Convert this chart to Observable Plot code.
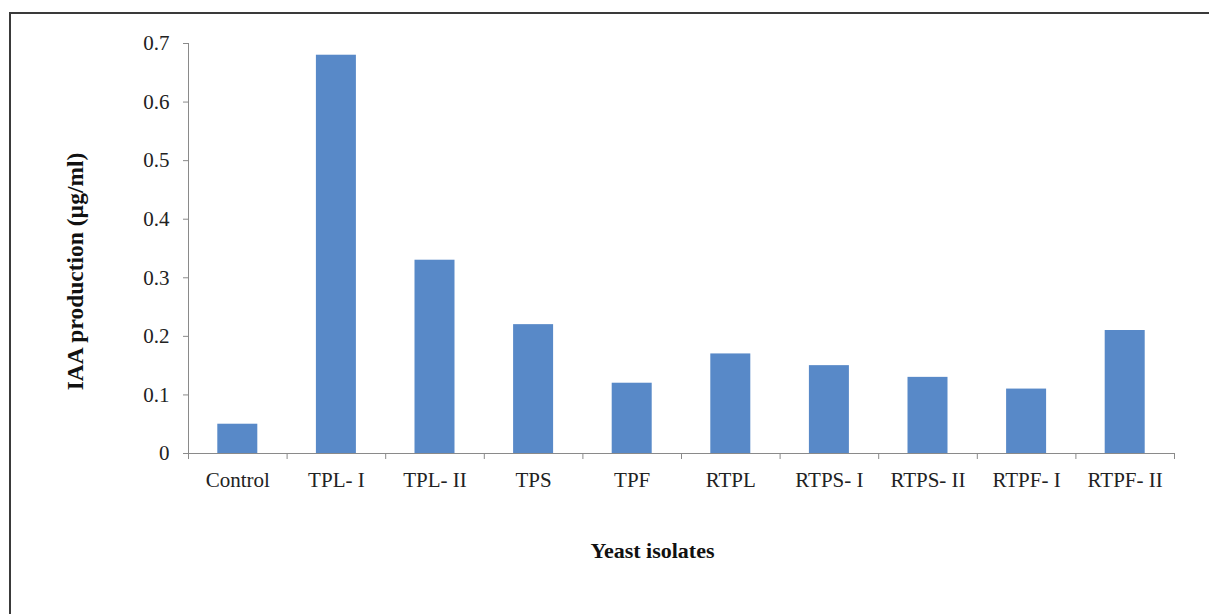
<!DOCTYPE html>
<html>
<head>
<meta charset="utf-8">
<script src="https://cdn.jsdelivr.net/npm/d3@7"></script>
<script src="https://cdn.jsdelivr.net/npm/@observablehq/plot@0.6"></script>
<style>
  html, body { margin: 0; padding: 0; background: #fff; overflow: hidden; width: 1209px; height: 614px; }
  #wrap { position: relative; width: 1209px; height: 614px; }
  #frame { position: absolute; left: 9px; top: 12px; width: 1400px; height: 800px; border: 2px solid #3a3a3a; box-sizing: border-box; }
  #chart { position: absolute; left: 0; top: 0; }
</style>
</head>
<body>
<div id="wrap"><div id="frame"></div><div id="chart"></div></div>
<script>
const categories = ["Control", "TPL- I", "TPL- II", "TPS", "TPF", "RTPL", "RTPS- I", "RTPS- II", "RTPF- I", "RTPF- II"];
const values = [0.05, 0.68, 0.33, 0.22, 0.12, 0.17, 0.15, 0.13, 0.11, 0.21];
const yTicks = [0, 0.1, 0.2, 0.3, 0.4, 0.5, 0.6, 0.7];
const xTitle = "Yeast isolates";
const yTitle = "IAA production (µg/ml)";

const data = categories.map((c, i) => ({cat: c, i, value: values[i]}));
const boundaries = d3.range(categories.length + 1);
const centers = categories.map((c, i) => i + 0.5);

const font = "'Liberation Serif', 'Times New Roman', serif";

const chart = Plot.plot({
  width: 1209,
  height: 614,
  marginLeft: 188,
  marginRight: 35,
  marginTop: 43,
  marginBottom: 161,
  style: {fontFamily: font, fontSize: "21px", color: "#222", background: "transparent"},
  x: {domain: [0, categories.length]},
  y: {domain: [0, 0.7]},
  marks: [
    Plot.rectY(data, {x1: "i", x2: d => d.i + 1, y: "value", fill: "#5889c8", insetLeft: 29.3, insetRight: 29.3}),
    Plot.ruleX([0], {stroke: "#8a8a8a", strokeWidth: 1}),
    Plot.ruleY([0], {stroke: "#8a8a8a", strokeWidth: 1}),
    Plot.axisY({ticks: yTicks, tickFormat: d => d === 0 ? "0" : String(d), tickSize: 5, tickPadding: 14, stroke: "#8a8a8a", fill: "#222", label: null}),
    Plot.axisX({ticks: boundaries, tickFormat: () => "", tickSize: 6, stroke: "#8a8a8a", label: null}),
    Plot.axisX({ticks: centers, tickFormat: d => categories[Math.floor(d)], tickSize: 0, tickPadding: 19, fill: "#222", label: null}),
    Plot.text([xTitle], {frameAnchor: "bottom", text: d => d, dx: -29, dy: 97, textAnchor: "middle", lineAnchor: "middle", fontWeight: "bold", fontSize: 22, fill: "#111"}),
    Plot.text([yTitle], {frameAnchor: "left", text: d => d, dx: -113, dy: 23, rotate: -90, textAnchor: "middle", lineAnchor: "middle", fontWeight: "bold", fontSize: 23.5, fill: "#111"})
  ]
});
document.getElementById("chart").append(chart);
</script>
</body>
</html>
